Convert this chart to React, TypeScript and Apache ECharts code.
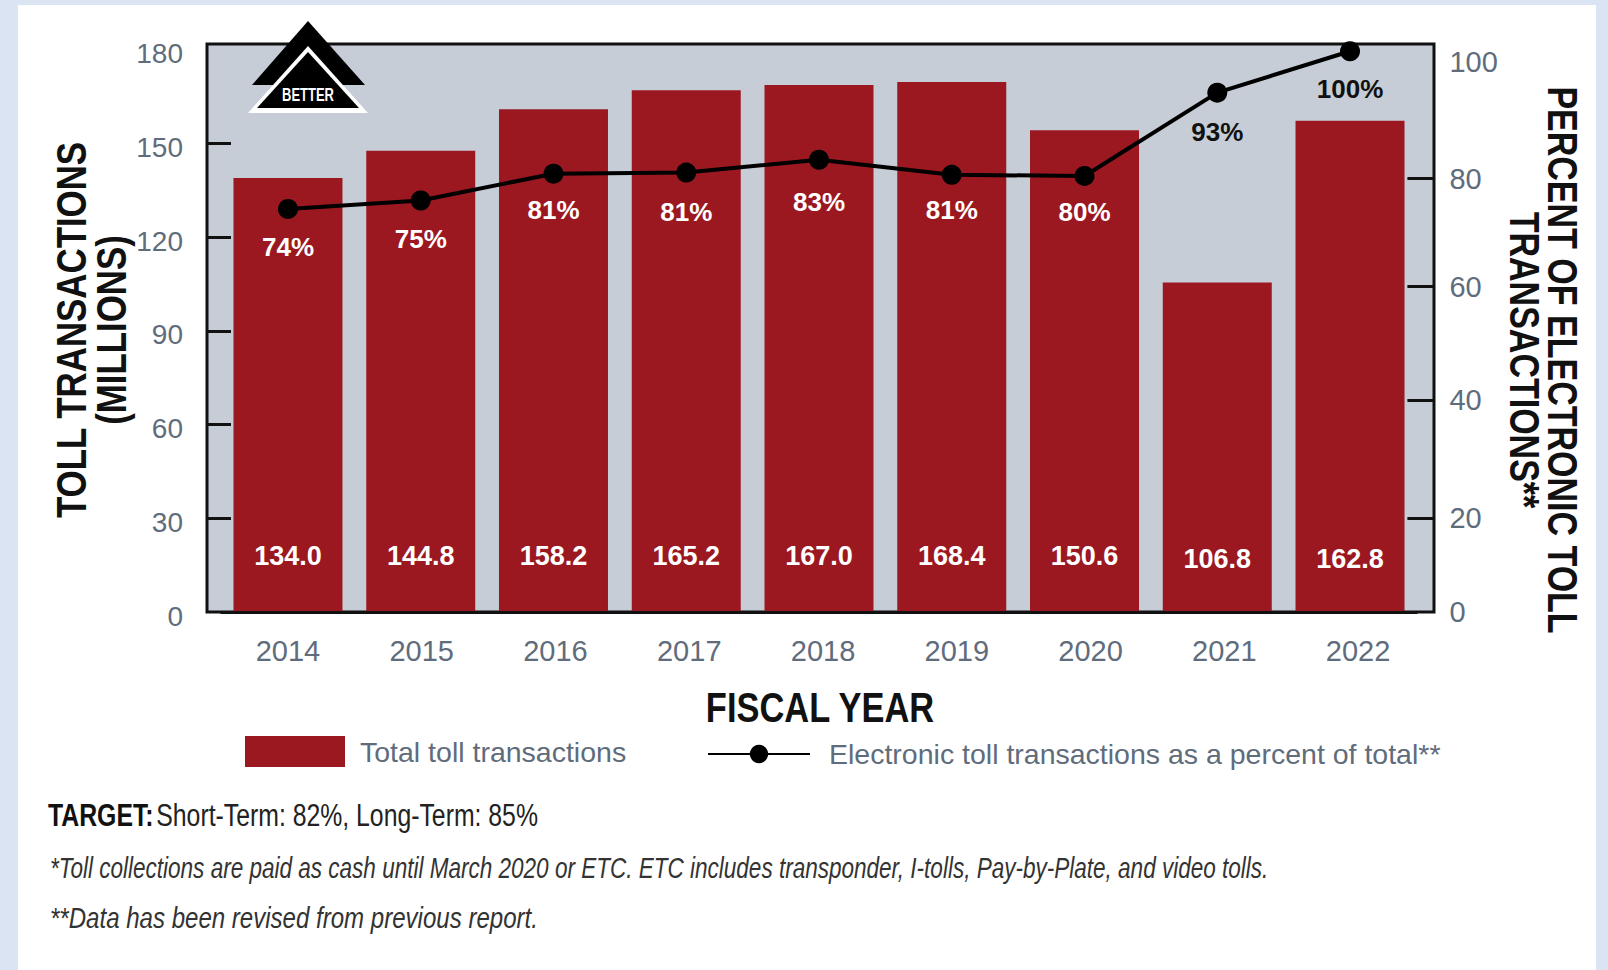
import React, { useEffect, useRef } from "react";
import * as echarts from "echarts";

const years = ["2014", "2015", "2016", "2017", "2018", "2019", "2020", "2021", "2022"];
// Printed values
const totalLabels = ["134.0", "144.8", "158.2", "165.2", "167.0", "168.4", "150.6", "106.8", "162.8"];
const percentLabels = ["74%", "75%", "81%", "81%", "83%", "81%", "80%", "93%", "100%"];
// Heights (the source artwork is not exactly to scale)
const totalDrawn = [138.9, 147.6, 160.9, 167.0, 168.7, 169.6, 154.2, 105.5, 157.2];
const percentDrawn = [72.1, 73.6, 78.4, 78.6, 80.9, 78.2, 78.0, 92.9, 100.3];
const leftTicks = [0, 30, 60, 90, 120, 150, 180];
const leftMarks = [30, 60, 90, 120, 150];
// The right axis of the artwork is irregular: where each printed tick sits on the axis
const rightTickAt = [0, 16.8, 37.9, 58.2, 77.5, 98.4];
const rightTickText = ["0", "20", "40", "60", "80", "100"];
const rightMarks = [16.8, 37.9, 58.2, 77.5];

const FONT = "'Liberation Sans', Arial, sans-serif";
const GREY = "#5f6c7c";
const RED = "#9b1820";
const BARNAME = "Total toll transactions";
const LINENAME = "Electronic toll transactions as a percent of total**";
const percentLabelGap = [15, 15, 13, 16, 19, 12, 13, 16, 15];

export default function App() {
  const ref = useRef<HTMLDivElement>(null);
  useEffect(() => {
    document.body.style.margin = "0";
    const chart = echarts.init(ref.current!, undefined, { renderer: "svg" });
    const top = 44;
    const bottom = 970 - 612;
    chart.setOption({
      animation: false,
      backgroundColor: "transparent",
      textStyle: { fontFamily: FONT },
      grid: [
        { left: 207, right: 1608 - 1434, top, bottom, show: true, backgroundColor: "#c7cdd6", borderColor: "#111", borderWidth: 3, z: 0, outerBoundsMode: "none" },
        { left: 221.6, width: 1194.8, top, bottom, outerBoundsMode: "none" },
        { left: 221.1, width: 1203.8, top, bottom, outerBoundsMode: "none" },
      ],
      xAxis: [
        { gridIndex: 0, type: "value", show: false, min: 0, max: 1 },
        {
          gridIndex: 1, type: "category", data: years, z: 5,
          axisLine: { show: true, lineStyle: { color: "#111", width: 3 } },
          axisTick: { show: false }, axisLabel: { show: false },
        },
        {
          gridIndex: 2, type: "category", data: years,
          axisLine: { show: false }, axisTick: { show: false },
          axisLabel: { color: GREY, fontSize: 29, margin: 24, fontFamily: FONT },
        },
      ],
      yAxis: [
        { gridIndex: 0, type: "value", show: false, min: 0, max: 1 },
        {
          gridIndex: 1, type: "value", position: "left", offset: 14.6, min: 0, max: 181.8, interval: 30,
          splitLine: { show: false },
          axisLine: { show: false },
          axisTick: { show: true, inside: true, length: 24, customValues: leftMarks, lineStyle: { color: "#111", width: 3 } },
          axisLabel: { color: GREY, fontSize: 28, margin: 24, customValues: leftTicks, verticalAlign: "top", lineHeight: 8, fontFamily: FONT },
        },
        {
          gridIndex: 1, type: "value", position: "right", offset: 18, min: 0, max: 101.6, interval: 20,
          splitLine: { show: false },
          axisLine: { show: false },
          axisTick: { show: true, inside: true, length: 27, customValues: rightMarks, lineStyle: { color: "#111", width: 3 } },
          axisLabel: {
            color: GREY, fontSize: 29, margin: 15, customValues: rightTickAt, fontFamily: FONT,
            formatter: (v: number) => rightTickText[rightTickAt.indexOf(v)] ?? "",
          },
        },
        { gridIndex: 2, type: "value", show: false, min: 0, max: 1 },
      ],
      legend: [
        {
          data: [{ name: BARNAME, icon: "rect" }], left: 240, top: 731, itemWidth: 100, itemHeight: 31,
          textStyle: { color: GREY, fontSize: 28.5, fontFamily: FONT, padding: [5, 0, 0, 10] },
        },
        {
          data: [LINENAME], left: 702, top: 734.5, itemWidth: 102, itemHeight: 23,
          textStyle: { color: GREY, fontSize: 28.5, fontFamily: FONT, padding: [8, 0, 0, 14] },
        },
      ],
      series: [
        {
          name: BARNAME, type: "bar", xAxisIndex: 1, yAxisIndex: 1, barWidth: 109, z: 2,
          itemStyle: { color: RED },
          data: totalDrawn.map((value, i) => ({
            value,
            label: { distance: i >= 7 ? 40 : 43 },
          })),
          label: {
            show: true, position: "insideBottom", color: "#fff", fontSize: 27, fontWeight: "bold", fontFamily: FONT,
            formatter: (p: any) => totalLabels[p.dataIndex],
          },
        },
        {
          name: LINENAME, type: "line", xAxisIndex: 1, yAxisIndex: 2, z: 6,
          symbol: "circle", symbolSize: 20, clip: false,
          lineStyle: { color: "#000", width: 4 }, itemStyle: { color: "#000" },
          data: percentDrawn.map((value, i) => ({
            value,
            label: { color: i >= 7 ? "#111" : "#fff", distance: percentLabelGap[i] },
          })),
          label: {
            show: true, position: "bottom", fontSize: 26, fontWeight: "bold", fontFamily: FONT,
            formatter: (p: any) => percentLabels[p.dataIndex],
          },
        },
      ],
      graphic: [
        {
          type: "group", z: 20, children: [
            { type: "polygon", shape: { points: [[308, 21], [365, 85], [252, 85]] }, style: { fill: "#000" } },
            { type: "polygon", shape: { points: [[308, 46], [368, 113], [248, 113]] }, style: { fill: "#fff" } },
            { type: "polygon", shape: { points: [[308, 52], [359, 108], [257, 108]] }, style: { fill: "#000" } },
            { type: "text", x: 308, y: 95, scaleX: 0.72, style: { text: "BETTER", fill: "#fff", font: `bold 18px ${FONT}`, align: "center", verticalAlign: "middle" } },
          ],
        },
        {
          type: "text", x: 91, y: 330, z: 20, rotation: Math.PI / 2, scaleX: 0.83,
          style: { text: "TOLL TRANSACTIONS\n(MILLIONS)", font: `bold 42px ${FONT}`, lineHeight: 40, fill: "#111", align: "center", verticalAlign: "middle" },
        },
        {
          type: "text", x: 1544, y: 360, z: 20, rotation: -Math.PI / 2, scaleX: 0.81,
          style: { text: "PERCENT OF ELECTRONIC TOLL\nTRANSACTIONS**", font: `bold 42px ${FONT}`, lineHeight: 38, fill: "#111", align: "center", verticalAlign: "middle" },
        },
        {
          type: "text", x: 820, y: 707, z: 20, scaleX: 0.82,
          style: { text: "FISCAL YEAR", font: `bold 42px ${FONT}`, fill: "#111", align: "center", verticalAlign: "middle" },
        },
        {
          type: "text", x: 48, y: 816, z: 20, scaleX: 0.8,
          style: {
            text: "{b|TARGET:} {r|Short-Term: 82%, Long-Term: 85%}", verticalAlign: "middle",
            rich: {
              b: { fontFamily: FONT, fontSize: 31, fontWeight: "bold", fill: "#111" },
              r: { fontFamily: FONT, fontSize: 31, fill: "#222" },
            },
          },
        },
        {
          type: "text", x: 50, y: 868, z: 20, scaleX: 0.777,
          style: {
            text: "*Toll collections are paid as cash until March 2020 or ETC. ETC includes transponder, I-tolls, Pay-by-Plate, and video tolls.",
            font: `italic 29px ${FONT}`, fill: "#333", verticalAlign: "middle",
          },
        },
        {
          type: "text", x: 50, y: 918, z: 20, scaleX: 0.83,
          style: {
            text: "**Data has been revised from previous report.",
            font: `italic 29px ${FONT}`, fill: "#333", verticalAlign: "middle",
          },
        },
      ],
    });
    return () => chart.dispose();
  }, []);
  return (
    <div style={{ position: "relative", width: 1608, height: 970, background: "#dbe4f3", overflow: "hidden" }}>
      <div style={{ position: "absolute", left: 18, top: 5, width: 1578, height: 965, background: "#fff" }} />
      <div ref={ref} style={{ position: "absolute", left: 0, top: 0, width: 1608, height: 970 }} />
    </div>
  );
}
